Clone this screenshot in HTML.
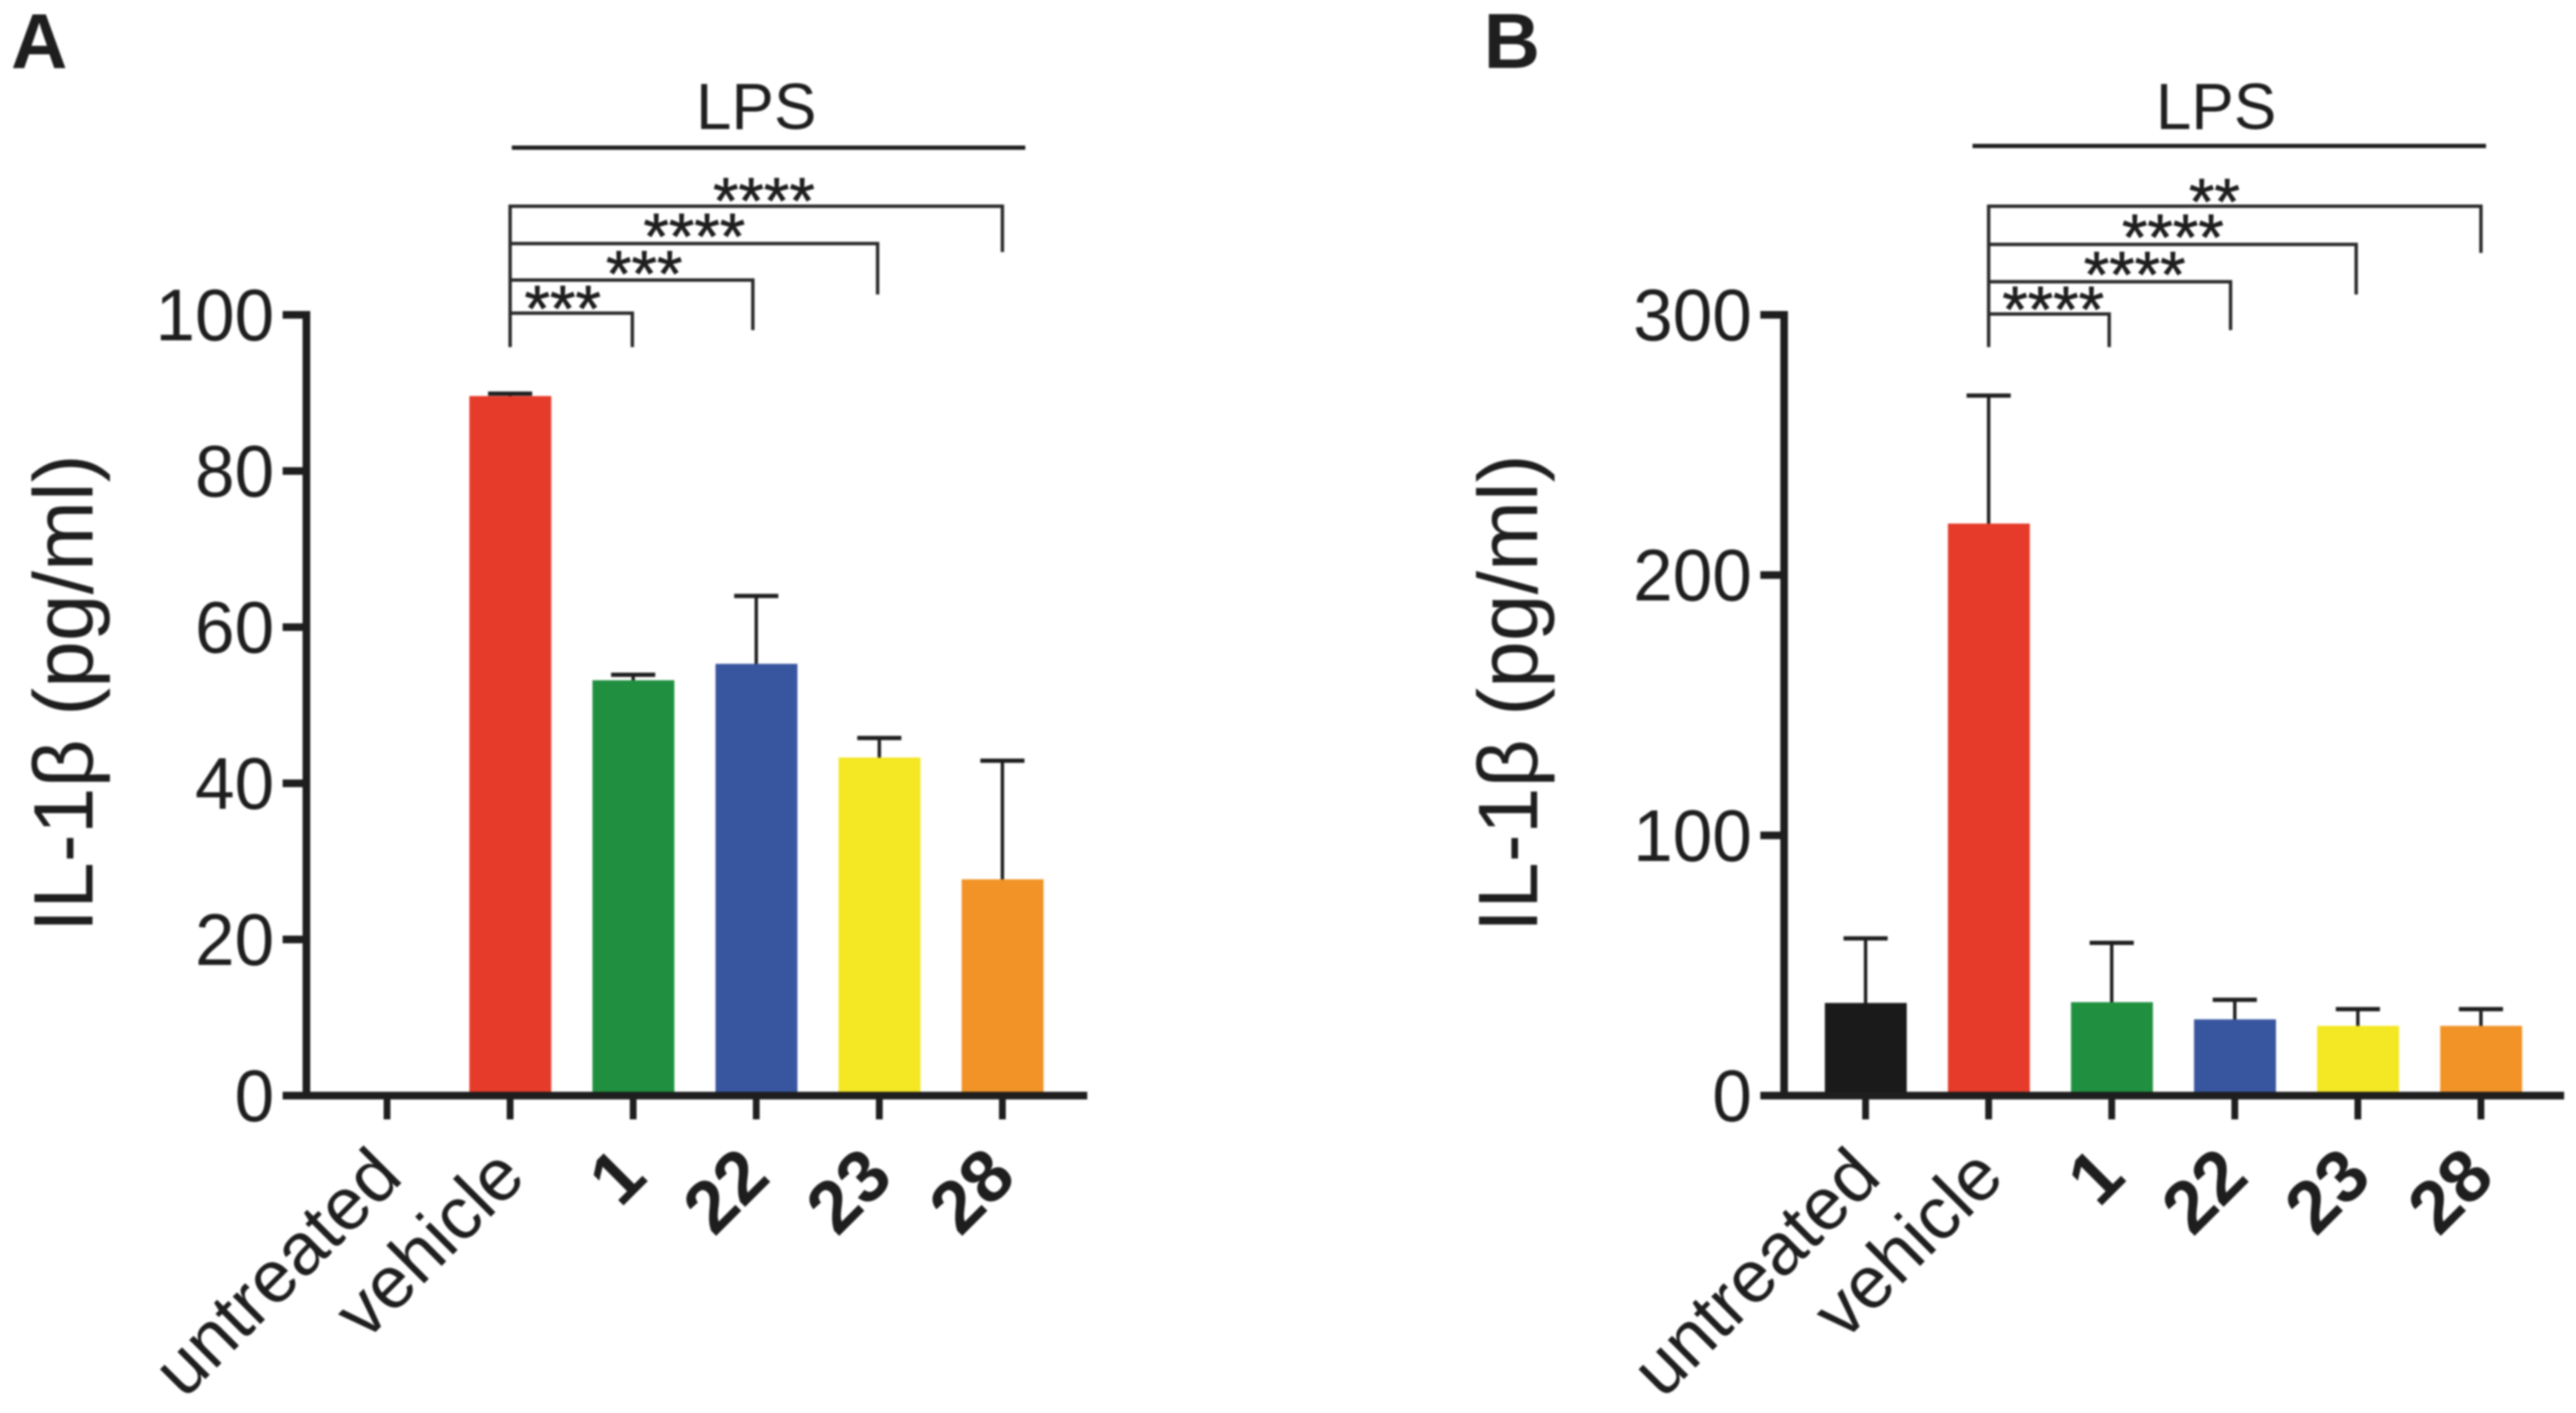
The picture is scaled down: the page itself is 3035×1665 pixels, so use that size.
<!DOCTYPE html>
<html lang="en">
<head>
<meta charset="utf-8">
<title>IL-1β bar charts</title>
<style>
  html, body { margin: 0; padding: 0; background: #fff; }
  body { width: 3035px; height: 1665px; overflow: hidden; }
  svg { display: block; filter: blur(1px); }
  text { font-family: "Liberation Sans", "DejaVu Sans", sans-serif; fill: #1e1e1e; }
</style>
</head>
<body>
<svg id="figure" xmlns="http://www.w3.org/2000/svg" width="3035" height="1665" viewBox="0 0 3035 1665">
  <rect x="0" y="0" width="3035" height="1665" fill="#ffffff"/>
  <text x="13" y="80" font-size="92" font-weight="700">A</text>
  <text x="1748" y="80" font-size="92" font-weight="700">B</text>
  <g id="panel-a"></g>
  <g id="panel-b"></g>
</svg>
<script>
// Shared categories and bar colours
const categories = ['untreated', 'vehicle', '1', '22', '23', '28'];
const barColors = ['#1a1a1a', '#e63b2a', '#209040', '#3855a0', '#f4e723', '#f29327'];

// Panel A data
const meansA = [0, 89.6, 53.2, 55.3, 43.3, 27.7];
const errorTopsA = [0, 89.9, 53.9, 64.0, 45.8, 42.9];
const ticksA = [0, 20, 40, 60, 80, 100];
const significanceA = ['***', '***', '****', '****'];

// Panel B data
const meansB = [35.6, 219.8, 35.9, 29.3, 26.8, 26.8];
const errorTopsB = [60.4, 269.0, 58.7, 36.8, 33.2, 33.2];
const ticksB = [0, 100, 200, 300];
const significanceB = ['****', '****', '****', '**'];

const SVG_NS = 'http://www.w3.org/2000/svg';
const INK = '#1e1e1e';

function make(parent, tag, attrs, content) {
  const el = document.createElementNS(SVG_NS, tag);
  for (const key in attrs) el.setAttribute(key, attrs[key]);
  if (content !== undefined) el.textContent = content;
  parent.appendChild(el);
  return el;
}

function drawPanel(cfg) {
  const root = document.getElementById(cfg.id);
  const x = i => cfg.x0 + i * cfg.step;
  const y = v => cfg.yZero - (v / cfg.yMax) * (cfg.yZero - cfg.yTop);

  // error bars
  cfg.means.forEach((m, i) => {
    if (m === 0 && cfg.errorTops[i] <= m) return;
    const stem = make(root, 'line', { x1: x(i), x2: x(i), y1: y(m) + 2, y2: y(cfg.errorTops[i]), stroke: INK, 'stroke-width': 4 });
    
    
    const cap = make(root, 'line', { x1: x(i) - 26, x2: x(i) + 26, y1: y(cfg.errorTops[i]), y2: y(cfg.errorTops[i]), stroke: INK, 'stroke-width': 5 });
    
    
  });

  // bars
  cfg.means.forEach((m, i) => {
    const bar = make(root, 'rect', { x: x(i) - 48, y: y(m), width: 96.5, height: Math.max(0, cfg.yZero - y(m)), fill: barColors[i] });
    
    
  });

  // y axis
  const yAxis = make(root, 'line', { x1: cfg.axisX, x2: cfg.axisX, y1: y(cfg.yMax) - 4.5, y2: cfg.yZero + 4, stroke: INK, 'stroke-width': 9 });
  
  

  cfg.ticks.forEach(t => {
    const tick = make(root, 'line', { x1: cfg.axisX - 28, x2: cfg.axisX, y1: y(t), y2: y(t), stroke: INK, 'stroke-width': 9 });
    
    
    const lx = cfg.axisX - 38;
    const ly = y(t) + 30;
    const label = make(root, 'text', {
      'font-size': 86, 'text-anchor': 'end',
      transform: 'translate(' + lx + ' ' + ly + ') scale(0.975 1)'
    }, String(t));
    
    
  });

  // x axis
  const xAxis = make(root, 'line', { x1: cfg.axisX - 28, x2: cfg.axisEnd, y1: cfg.yZero, y2: cfg.yZero, stroke: INK, 'stroke-width': 9 });
  
  

  categories.forEach((c, i) => {
    const tick = make(root, 'line', { x1: x(i), x2: x(i), y1: cfg.yZero, y2: cfg.yZero + 28, stroke: INK, 'stroke-width': 8 });
    
    
    const lx = x(i) + (i > 1 ? 19 : 21);
    const ly = 1390;
    const label = make(root, 'text', {
      x: lx, y: ly, 'font-size': 87, 'text-anchor': 'end',
      'font-weight': i > 1 ? 700 : 400,
      transform: 'rotate(-45 ' + lx + ' ' + ly + ')'
    }, c);
    
    
  });

  // y axis title
  const title = make(root, 'text', {
    x: cfg.titleX, y: 817, 'font-size': 99, 'text-anchor': 'middle',
    transform: 'rotate(-90 ' + cfg.titleX + ' 817)'
  }, 'IL-1β (pg/ml)');
  
  

  // LPS group header
  const lps = make(root, 'text', {
    'font-size': 77, 'text-anchor': 'middle',
    transform: 'translate(' + cfg.lpsX + ' 152) scale(0.975 1)'
  }, 'LPS');
  
  
  const lpsLine = make(root, 'line', { x1: cfg.lpsLine0, x2: cfg.lpsLine1, y1: cfg.lpsLineY, y2: cfg.lpsLineY, stroke: INK, 'stroke-width': 5 });
  
  

  // Significance brackets, from vehicle (index 1) to each compound
  const bracketTrunk = make(root, 'line', { x1: x(1), x2: x(1), y1: cfg.brackets[3].y - 2, y2: cfg.brackets[0].bottom, stroke: '#2a2a2a', 'stroke-width': 4 });
  
  
  cfg.brackets.forEach((b, k) => {
    const target = x(k + 2) + b.shift;
    const path = make(root, 'path', {
      d: 'M' + x(1) + ' ' + b.y + 'H' + target + 'V' + b.bottom,
      fill: 'none', stroke: '#2a2a2a', 'stroke-width': 4
    });
    
    
    const stars = make(root, 'text', { x: b.starX, y: b.starY + 38, 'font-size': 77, 'text-anchor': 'middle', 'stroke': '#1e1e1e', 'stroke-width': 0.8 }, cfg.significance[k]);
    
    
  });
}

drawPanel({
  id: 'panel-a', means: meansA, errorTops: errorTopsA, ticks: ticksA, significance: significanceA,
  x0: 456, step: 145, yZero: 1291, yTop: 371, yMax: 100,
  axisX: 361, axisEnd: 1281, titleX: 109,
  lpsX: 891, lpsLine0: 603, lpsLine1: 1208, lpsLineY: 174,
  brackets: [
    { y: 369, bottom: 409, starX: 663, starY: 352, shift: -1 },
    { y: 330, bottom: 389, starX: 759, starY: 311, shift: -4 },
    { y: 287, bottom: 347, starX: 818, starY: 267, shift: -2 },
    { y: 243, bottom: 297, starX: 900, starY: 225, shift: 0 }
  ]
});

drawPanel({
  id: 'panel-b', means: meansB, errorTops: errorTopsB, ticks: ticksB, significance: significanceB,
  x0: 2198, step: 145, yZero: 1291, yTop: 371, yMax: 300,
  axisX: 2102, axisEnd: 3021, titleX: 1811,
  lpsX: 2611, lpsLine0: 2324, lpsLine1: 2929, lpsLineY: 172,
  brackets: [
    { y: 370, bottom: 409, starX: 2419, starY: 353, shift: -3 },
    { y: 332, bottom: 389, starX: 2515, starY: 312, shift: -5 },
    { y: 288, bottom: 347, starX: 2560, starY: 268, shift: -2 },
    { y: 243, bottom: 298, starX: 2609, starY: 226, shift: 0 }
  ]
});
</script>
</body>
</html>
